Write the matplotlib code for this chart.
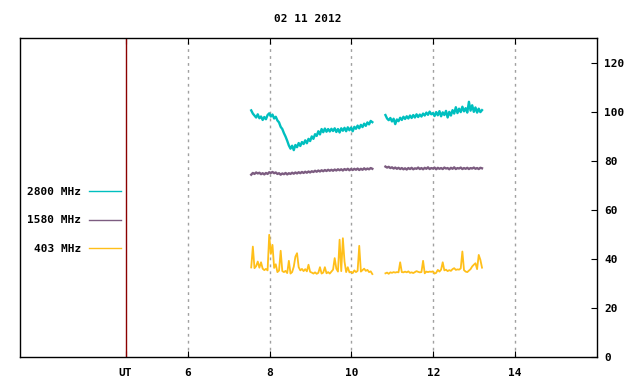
import numpy as np
import matplotlib
matplotlib.use("Agg")
import matplotlib.pyplot as plt

# two recording windows (UT hours)
seg1_start, seg1_end = 7.55, 10.51
seg2_start, seg2_end = 10.83, 13.19

# 2800 MHz
f2800_a = [100.5, 99.2, 98.4, 97.6, 98.9, 97.3, 98.0, 96.6, 97.8, 96.9,
           98.6, 99.3, 98.0, 98.8, 97.2, 97.9, 96.4, 95.6, 93.8, 92.9,
           91.2, 89.8, 88.1, 86.2, 84.9, 86.1, 84.3, 86.4, 85.5, 87.2,
           86.0, 87.6, 86.8, 88.3, 87.1, 88.9, 88.0, 89.9, 88.9, 90.8,
           90.1, 92.0, 90.7, 92.9, 91.6, 93.1, 91.8, 92.9, 91.9, 93.0,
           92.1, 93.2, 91.7, 92.9, 91.5, 93.2, 92.2, 93.4, 92.0, 93.6,
           92.4, 93.5, 92.0, 93.8, 93.0, 94.3, 93.2, 94.6, 93.7, 95.1,
           94.2, 95.6, 94.8, 96.2, 95.7]
f2800_b = [98.6, 97.2, 96.5, 97.4, 96.0, 97.1, 94.9, 96.8, 96.1, 97.5,
           96.6, 97.9, 97.0, 98.1, 97.2, 98.4, 97.4, 98.6, 97.6, 98.9,
           97.8, 98.8, 98.0, 99.2, 98.4, 99.6, 98.7, 100.0, 98.9, 99.4,
           98.2, 99.8, 98.5, 100.2, 98.1, 99.7, 98.6, 100.3, 97.6, 99.9,
           98.4, 100.6, 99.2, 101.8, 99.4, 101.2, 99.8, 102.0, 100.1, 101.4,
           99.6, 104.0, 100.4, 102.6, 99.9, 101.7, 99.6, 101.2, 99.8, 100.6]

# 1580 MHz
f1580_a = [74.3, 75.0, 74.6, 75.2, 74.8, 75.1, 74.5, 74.9, 74.4, 75.0,
           74.6, 75.3, 75.0, 75.4, 74.9, 75.2, 74.6, 74.9, 74.3, 74.8,
           74.5, 75.0, 74.4, 74.9, 74.6, 75.1, 74.7, 75.2, 74.8, 75.3,
           74.9, 75.4, 75.0, 75.5, 75.1, 75.6, 75.2, 75.7, 75.4, 75.9,
           75.5, 76.0, 75.6, 76.1, 75.7, 76.2, 75.8, 76.3, 75.9, 76.3,
           75.9, 76.4, 76.0, 76.5, 76.1, 76.5, 76.0, 76.6, 76.2, 76.7,
           76.1, 76.6, 76.2, 76.7, 76.3, 76.8, 76.2, 76.7, 76.3, 76.9,
           76.4, 76.8, 76.5, 77.0, 76.7]
f1580_b = [77.6, 77.2, 77.5, 77.0, 77.3, 76.8, 77.2, 76.7, 77.1, 76.6,
           77.0, 76.5, 76.9, 76.4, 77.0, 76.6, 77.1, 76.5, 76.9, 76.7,
           77.2, 76.6, 77.0, 76.5, 77.1, 76.7, 77.3, 76.6, 77.0, 76.8,
           77.2, 76.5, 77.1, 76.7, 77.0, 76.6, 77.2, 76.8, 77.0, 76.5,
           77.1, 76.7, 77.3, 76.6, 77.0, 76.8, 77.2, 76.6, 77.0, 76.7,
           77.1, 76.6, 77.0, 76.8, 77.2, 76.7, 77.0, 76.6, 77.1, 76.9]

# 403 MHz
f403_a = [36.5, 45.0, 36.2, 37.0, 38.9, 36.4, 38.6, 36.0, 35.4, 35.9,
          35.3, 49.8, 42.0, 45.7, 36.3, 37.8, 34.6, 35.2, 43.3, 35.0,
          34.6, 35.1, 34.2, 39.2, 34.0, 34.6, 36.8, 40.9, 42.3, 36.6,
          35.3, 35.9, 35.0, 35.8, 34.9, 37.6, 34.7, 34.4, 34.0, 34.5,
          33.9, 34.3, 36.6, 34.0, 34.4, 36.6, 34.1, 34.6, 34.0, 34.8,
          35.6, 40.3, 36.0, 34.8, 47.8, 35.0, 48.4, 38.9, 34.6, 36.6,
          34.5, 34.7, 34.2, 35.3, 34.6, 35.1, 45.3, 34.8, 35.4, 36.0,
          35.1, 35.5, 34.6, 34.9, 33.8]
f403_b = [34.1, 34.4, 33.9, 34.5, 34.3, 34.6, 34.4, 34.6, 34.5, 38.6,
          34.6, 34.5, 34.8, 34.5, 34.9, 34.3, 34.5, 34.2, 34.6, 35.0,
          34.7, 34.5, 34.6, 39.2, 34.1, 34.8, 34.6, 34.8, 34.7, 34.9,
          34.0, 34.3, 35.5, 34.8, 35.6, 38.6, 35.3, 35.6, 35.0, 35.4,
          35.1, 35.8, 36.2, 35.5, 35.7, 35.6, 36.1, 43.0, 35.4, 34.8,
          34.6, 35.2, 35.8, 36.9, 37.6, 38.2, 35.8, 41.6, 39.6, 36.4]

tick_hours = [6, 8, 10, 12, 14]
ut_pos = 4.48
series = [("2800 MHz", "#00bfbf", 1.7, f2800_a, f2800_b),
          ("1580 MHz", "#7c5c80", 1.7, f1580_a, f1580_b),
          ("403 MHz", "#ffbf1a", 1.3, f403_a, f403_b)]

font = {"family": "DejaVu Sans Mono", "weight": "bold", "size": 8}

fig = plt.figure(figsize=(6.4, 3.84), dpi=100)
ax = fig.add_axes([20 / 640, 27 / 384, 577 / 640, 319 / 384])

for label, color, lw, a, b in series:
    ta = np.linspace(seg1_start, seg1_end, len(a))
    tb = np.linspace(seg2_start, seg2_end, len(b))
    ax.plot(ta, a, color=color, lw=lw, label=label)
    ax.plot(tb, b, color=color, lw=lw)

ax.axvline(ut_pos, color="#8b0000", lw=1.0)
for h in tick_hours:
    ax.axvline(h, color="#a0a0a0", lw=1.0, ls=(0, (2, 3)), zorder=0)

ax.set_xlim(1.9, 16.0)
ax.set_ylim(0, 130)
ax.set_xticks([ut_pos] + tick_hours)
ax.set_xticklabels(["UT"] + [str(h) for h in tick_hours], fontdict=font)
ax.set_yticks(range(0, 121, 20))
ax.set_yticklabels([str(v) for v in range(0, 121, 20)], fontdict=font)
ax.yaxis.tick_right()
ax.tick_params(axis="x", direction="in", top=True, length=4, pad=8)
ax.tick_params(axis="y", direction="in", left=False, right=True, length=4, pad=5)
for s in ax.spines.values():
    s.set_linewidth(1.0)

fig.text(308 / 640, 1 - 19 / 384, "02 11 2012", ha="center", va="center", **font)

handles, labels = ax.get_legend_handles_labels()
ax.legend(handles, labels, loc="center right", bbox_to_anchor=(0.175, 0.428),
          frameon=False, markerfirst=False, borderpad=0, borderaxespad=0,
          handlelength=2.9, handletextpad=0.7, labelspacing=1.7,
          prop={"family": "DejaVu Sans Mono", "weight": "bold", "size": 8})
for line in ax.get_legend().get_lines():
    line.set_linewidth(1.0)

fig.savefig("out.png", dpi=100)
